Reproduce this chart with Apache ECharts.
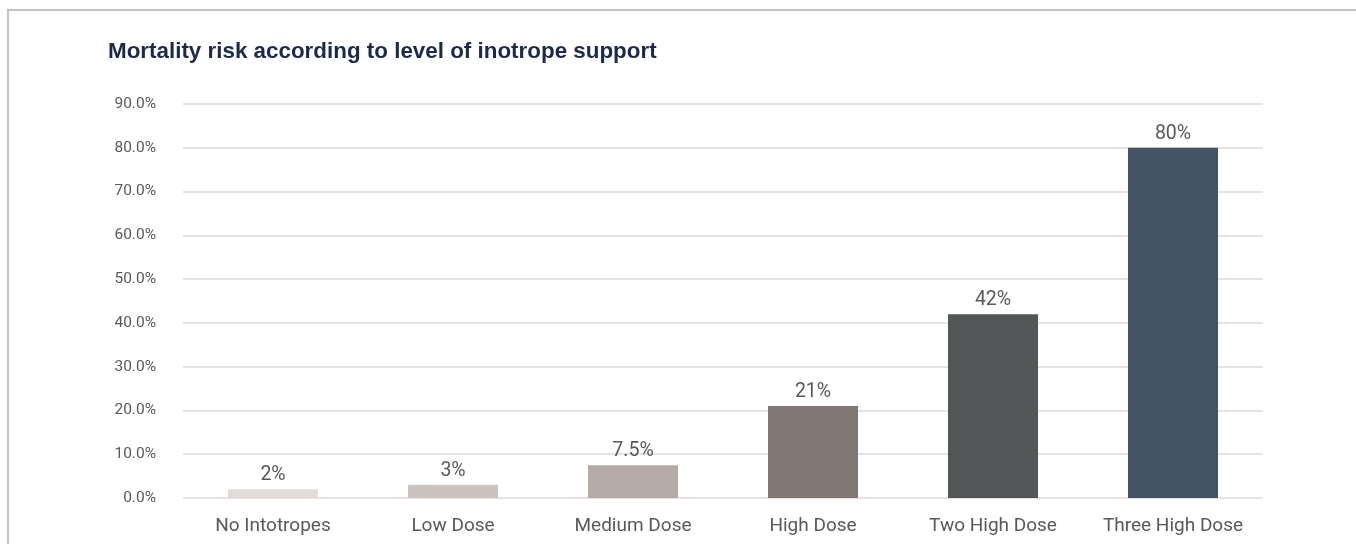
<!DOCTYPE html>
<html>
<head>
<meta charset="utf-8">
<script src="https://cdn.jsdelivr.net/npm/echarts@6/dist/echarts.min.js"></script>
<style>
  html, body { margin: 0; padding: 0; background: #ffffff; }
  #chart { width: 1356px; height: 544px; }
</style>
</head>
<body>
<div id="chart"></div>
<script>
// Inotrope support levels and observed mortality (%)
const categories = ['No Intotropes', 'Low Dose', 'Medium Dose', 'High Dose', 'Two High Dose', 'Three High Dose'];
const mortality = [2, 3, 7.5, 21, 42, 80];
const barColors = ['#e2dcd9', '#cbc3c0', '#b5aaa6', '#807674', '#525657', '#435565'];
const yTicks = { min: 0, max: 90, interval: 10 };

const chart = echarts.init(document.getElementById('chart'), null, { renderer: 'canvas' });

const labelFont = 'Roboto, "Noto Sans", sans-serif';

chart.setOption({
  animation: false,
  backgroundColor: '#ffffff',
  title: {
    text: 'Mortality risk according to level of inotrope support',
    left: 103,
    top: 36,
    textStyle: {
      fontFamily: '"Liberation Sans", Arial, sans-serif',
      fontWeight: 'bold',
      fontSize: 22.4,
      color: '#1b2a4a'
    }
  },
  graphic: [
    {
      type: 'polyline',
      shape: { points: [[8, 544], [8, 10], [1356, 10]] },
      style: { stroke: '#c9c1c0', lineWidth: 2, fill: null }
    }
  ],
  grid: { left: 183, right: 93, top: 104, bottom: 46, containLabel: false },
  xAxis: {
    type: 'category',
    data: categories,
    axisLine: { show: false },
    axisTick: { show: false },
    axisLabel: {
      interval: 0,
      hideOverlap: false,
      margin: 19,
      fontFamily: labelFont,
      fontSize: 19,
      color: '#595959'
    }
  },
  yAxis: {
    type: 'value',
    min: yTicks.min,
    max: yTicks.max,
    interval: yTicks.interval,
    axisLine: { show: false },
    axisTick: { show: false },
    splitLine: { lineStyle: { color: '#e0dad9', width: 1.5 } },
    axisLabel: {
      margin: 27,
      fontFamily: labelFont,
      fontSize: 15.5,
      color: '#595959',
      formatter: v => v.toFixed(1) + '%'
    }
  },
  series: [{
    type: 'bar',
    barWidth: '50%',
    data: mortality.map((v, i) => ({ value: v, itemStyle: { color: barColors[i] } })),
    label: {
      show: true,
      position: 'top',
      distance: 4,
      fontFamily: labelFont,
      fontSize: 19.5,
      color: '#595959',
      formatter: p => p.value + '%'
    }
  }]
});
</script>
</body>
</html>
